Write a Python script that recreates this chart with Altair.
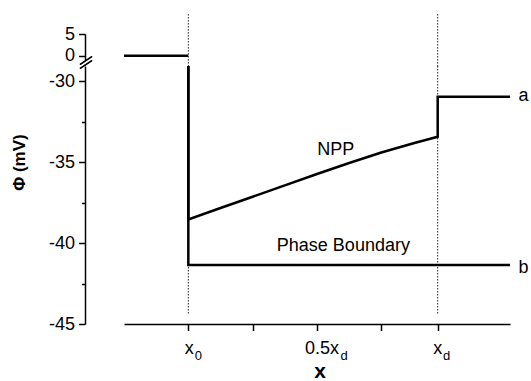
import altair as alt
import pandas as pd

# ---- data ----
a_x = [-1, 0, 0, 0.5, 1, 1.5, 2, 2.5, 3, 3.5, 3.876, 3.876, 5]
a_y = [0, 0, -38.54, -37.84, -37.14, -36.44, -35.74, -35.06, -34.41, -33.84, -33.44, -30.97, -30.97]
b_x = [0, 0, 5]
b_y = [0, -41.35, -41.35]

guide_x = [0, 3.876]           # x0 and xd
guide_top_upper = 9.6          # dotted guides, upper panel extent
guide_bot_upper = -2.6
guide_top_lower = -29.07       # dotted guides, lower panel extent
guide_bot_lower = -44.4

x_tick_values = [0, 1, 2, 3, 3.876]
x_label_pos = [0, 2, 3.876]
x_label_main = ["x", "0.5x", "x"]
x_label_sub = ["0", "d", "d"]
x_label_dx = [1, 5, 0]
x_sub_dx = [6.3, 23.6, 5.4]

y_upper_ticks = [0, 5]
y_lower_ticks = [-45, -42.5, -40, -37.5, -35, -32.5, -30]

ann_text = ["NPP", "Phase Boundary", "a", "b"]
ann_x = [2.29, 2.41, 5.21, 5.21]
ann_y = [-34.54, -40.49, -31.22, -41.87]

# ---- tables ----
rows = []
for i, (x, y) in enumerate(zip(a_x, a_y)):
    rows.append({"series": "a", "i": i, "x": x, "y": y})
for i, (x, y) in enumerate(zip(b_x, b_y)):
    rows.append({"series": "b", "i": i, "x": x, "y": y})
lines_df = pd.DataFrame(rows)

guides_upper = pd.DataFrame({"x": guide_x, "y1": [guide_top_upper] * 2, "y2": [guide_bot_upper] * 2})
guides_lower = pd.DataFrame({"x": guide_x, "y1": [guide_top_lower] * 2, "y2": [guide_bot_lower] * 2})
ann_df = pd.DataFrame({"t": ann_text, "x": ann_x, "y": ann_y})

FONT = "Liberation Sans"
W, H_TOP, H_BOT = 386, 26, 258

x_scale = alt.Scale(domain=[-1, 5], nice=False, zero=False)
y_top_scale = alt.Scale(domain=[-1, 5], nice=False, zero=False)
y_bot_scale = alt.Scale(domain=[-45, -29.07], nice=False, zero=False)

common_axis = dict(domainColor="black", tickColor="black", labelColor="black",
                   domainWidth=1.5, tickWidth=1.5, grid=False, labelFont=FONT,
                   titleFont=FONT, titleColor="black")

# ---------- upper panel ----------
top_line = alt.Chart(lines_df).transform_filter("datum.y >= 0").mark_line(
    color="black", strokeWidth=2.5, strokeJoin="miter"
).encode(
    x=alt.X("x:Q", scale=x_scale, axis=None),
    y=alt.Y("y:Q", scale=y_top_scale,
            axis=alt.Axis(values=y_upper_ticks, offset=39, tickSize=6.5, labelFontSize=18,
                          labelPadding=4, title=None,
                          labelExpr="toString(datum.value)", **common_axis)),
    detail="series:N",
    order="i:Q",
)
top_guides = alt.Chart(guides_upper).mark_rule(
    color="#222", strokeWidth=1, strokeDash=[1.5, 1.5]
).encode(x=alt.X("x:Q", scale=x_scale), y=alt.Y("y1:Q", scale=y_top_scale), y2="y2:Q")

slash1 = alt.Chart(guides_upper).mark_rule(color="black", strokeWidth=1.5).encode(
    x=alt.value(-44), x2=alt.value(-32), y=alt.value(30.5), y2=alt.value(22.5))
slash2 = alt.Chart(guides_upper).mark_rule(color="black", strokeWidth=1.5).encode(
    x=alt.value(-44), x2=alt.value(-32), y=alt.value(34.5), y2=alt.value(26.5))

upper = alt.layer(top_line, top_guides, slash1, slash2).properties(width=W, height=H_TOP)

# ---------- lower panel ----------
bot_line = alt.Chart(lines_df).mark_line(
    color="black", strokeWidth=2.5, strokeJoin="miter", clip=True
).encode(
    x=alt.X("x:Q", scale=x_scale,
            axis=alt.Axis(values=x_tick_values, labels=False, tickSize=6.5,
                          title="x", titleFontSize=21, titleFontWeight="bold",
                          titleX=195.7, titleY=53, titleBaseline="alphabetic",
                          titleAlign="center", **common_axis)),
    y=alt.Y("y:Q", scale=y_bot_scale,
            axis=alt.Axis(values=y_lower_ticks, offset=39,
                          tickSize={"condition": {"test": "datum.value % 5 == 0", "value": 6.5},
                                    "value": 3.5},
                          labelFontSize=18, labelPadding=4,
                          labelExpr="datum.value % 5 == 0 ? toString(datum.value) : ''",
                          title="Φ (mV)", titleFontSize=17, titleFontWeight="bold",
                          titleX=-57, titleY=96, **common_axis)),
    detail="series:N",
    order="i:Q",
)
bot_guides = alt.Chart(guides_lower).mark_rule(
    color="#222", strokeWidth=1, strokeDash=[1.5, 1.5]
).encode(x=alt.X("x:Q", scale=x_scale), y=alt.Y("y1:Q", scale=y_bot_scale), y2="y2:Q")

ann = alt.Chart(ann_df).mark_text(
    font=FONT, fontSize=18, color="black", align="center", baseline="alphabetic"
).encode(x=alt.X("x:Q", scale=x_scale), y=alt.Y("y:Q", scale=y_bot_scale), text="t:N")

tick_text_layers = []
for pos, main, sub, dx, sdx in zip(x_label_pos, x_label_main, x_label_sub, x_label_dx, x_sub_dx):
    one = pd.DataFrame({"x": [pos], "main": [main], "sub": [sub]})
    tick_text_layers.append(
        alt.Chart(one).mark_text(font=FONT, fontSize=18, color="black", align="center",
                                 baseline="alphabetic", dx=dx)
        .encode(x=alt.X("x:Q", scale=x_scale), y=alt.value(H_BOT + 30.4), text="main:N"))
    tick_text_layers.append(
        alt.Chart(one).mark_text(font=FONT, fontSize=13, color="black", align="left",
                                 baseline="alphabetic", dx=sdx)
        .encode(x=alt.X("x:Q", scale=x_scale), y=alt.value(H_BOT + 36.4), text="sub:N"))

lower = alt.layer(bot_guides, bot_line, ann, *tick_text_layers).properties(width=W, height=H_BOT)

chart = alt.vconcat(upper, lower, spacing=6, bounds="flush").properties(
    padding={"left": 10, "top": 13, "right": 0, "bottom": 0}
).configure(font=FONT).configure_view(stroke=None)

chart.save("out.html", embed_options={"renderer": "svg", "actions": False})
